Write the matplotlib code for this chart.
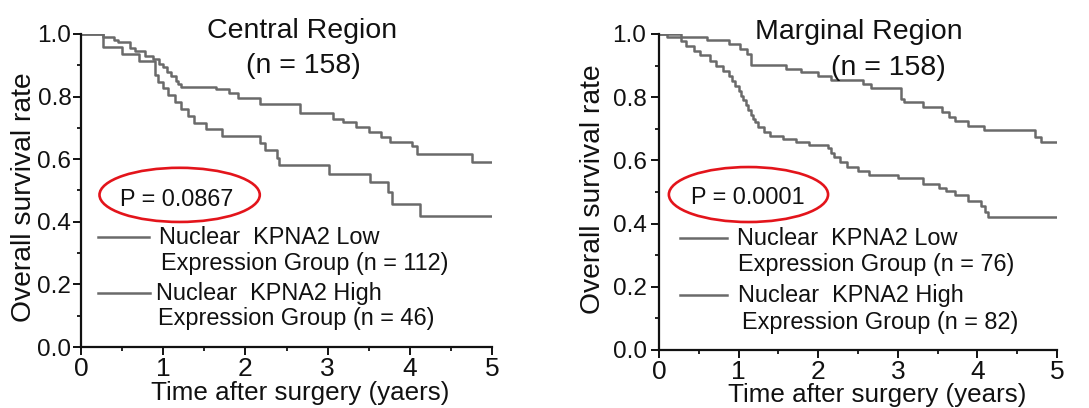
import matplotlib
matplotlib.use("Agg")
import matplotlib.pyplot as plt
from matplotlib.patches import Ellipse
from matplotlib.ticker import MultipleLocator

plt.rcParams['font.family'] = ['Liberation Sans', 'DejaVu Sans']

# ---------------- data ----------------
# Central region
central_low_t = [0, 0.27, 0.40, 0.45, 0.60, 0.66, 0.78, 0.88, 0.95, 1.00, 1.05, 1.10, 1.15, 1.18,
                 1.22, 1.64, 1.80, 1.91, 2.18, 2.66, 3.07, 3.19, 3.34, 3.50, 3.65, 3.76, 4.03,
                 4.09, 4.76, 5.0]
central_low_s = [1.0, 0.99, 0.982, 0.973, 0.955, 0.946, 0.93, 0.92, 0.905, 0.893, 0.88, 0.866, 0.85, 0.84,
                 0.83, 0.823, 0.81, 0.796, 0.776, 0.747, 0.73, 0.718, 0.704, 0.688, 0.672, 0.656, 0.643,
                 0.618, 0.59, 0.59]
central_high_t = [0, 0.27, 0.50, 0.71, 0.90, 0.94, 1.00, 1.06, 1.14, 1.22, 1.30, 1.38, 1.52, 1.72,
                  2.18, 2.24, 2.38, 2.41, 3.02, 3.51, 3.74, 3.78, 4.13, 5.0]
central_high_s = [1.0, 0.957, 0.935, 0.913, 0.870, 0.848, 0.826, 0.804, 0.782, 0.761, 0.739, 0.717, 0.696, 0.674,
                  0.652, 0.630, 0.605, 0.580, 0.554, 0.527, 0.494, 0.457, 0.420, 0.420]

# Marginal region
marginal_low_t = [0, 0.28, 0.60, 0.88, 1.02, 1.10, 1.16, 1.60, 1.78, 2.00, 2.16, 2.56, 2.66, 3.04,
                  3.08, 3.32, 3.56, 3.64, 3.72, 3.88, 4.08, 4.72, 4.80, 5.0]
marginal_low_s = [1.0, 0.99, 0.982, 0.968, 0.953, 0.937, 0.902, 0.89, 0.88, 0.866, 0.853, 0.842, 0.828, 0.795,
                  0.784, 0.77, 0.753, 0.737, 0.726, 0.708, 0.695, 0.675, 0.658, 0.658]
marginal_high_t = [0, 0.10, 0.28, 0.34, 0.44, 0.52, 0.64, 0.72, 0.80, 0.88, 0.92, 0.96, 1.00, 1.03,
                   1.06, 1.09, 1.12, 1.15, 1.18, 1.21, 1.24, 1.32, 1.40, 1.56, 1.72, 1.88, 2.12,
                   2.16, 2.20, 2.28, 2.36, 2.50, 2.64, 3.00, 3.32, 3.52, 3.60, 3.72, 3.88, 4.04,
                   4.10, 4.13, 5.0]
marginal_high_s = [1.0, 0.99, 0.978, 0.963, 0.947, 0.932, 0.916, 0.90, 0.884, 0.868, 0.85, 0.837, 0.82, 0.805,
                   0.79, 0.774, 0.758, 0.745, 0.732, 0.72, 0.705, 0.69, 0.678, 0.668, 0.657, 0.648, 0.638,
                   0.624, 0.61, 0.595, 0.58, 0.568, 0.555, 0.543, 0.525, 0.512, 0.502, 0.49, 0.47, 0.455,
                   0.438, 0.42, 0.42]

titles = [("Central Region", "(n = 158)"), ("Marginal Region", "(n = 158)")]
p_texts = ["P = 0.0867", "P = 0.0001"]
legend_low = [("Nuclear  KPNA2 Low", "Expression Group (n = 112)"),
              ("Nuclear  KPNA2 Low", "Expression Group (n = 76)")]
legend_high = [("Nuclear  KPNA2 High", "Expression Group (n = 46)"),
               ("Nuclear  KPNA2 High", "Expression Group (n = 82)")]
xlabels = ["Time after surgery (yaers)", "Time after surgery (years)"]
ylabel = "Overall survival rate"
xtick_labels = ['0', '1', '2', '3', '4', '5']
ytick_labels = ['0.0', '0.2', '0.4', '0.6', '0.8', '1.0']

# ---------------- figure ----------------
W, H = 1089, 408
fig = plt.figure(figsize=(W / 100, H / 100), dpi=100)

def fx(px):
    return px / W

def fy(py):
    return 1 - py / H

axes_px = [(81, 492, 34, 347), (659, 1057, 34, 350)]
axs = []
for (l, r, t, b) in axes_px:
    ax = fig.add_axes([fx(l), fy(b), (r - l) / W, (b - t) / H])
    axs.append(ax)

curve_color = '#6a6a6a'
text_color = '#111111'
red = '#e3141b'

data = [((central_low_t, central_low_s), (central_high_t, central_high_s)),
        ((marginal_low_t, marginal_low_s), (marginal_high_t, marginal_high_s))]

ell_params = [((1.20, 0.486), 1.95, 0.173), ((1.124, 0.492), 2.0, 0.174)]
p_pos = [(1.16, 0.47), (1.12, 0.484)]
leg_low_pos = [((0.207, 0.827), 0.351, (0.95, 0.351), (0.973, 0.268)),
               ((0.264, 0.854), 0.354, (0.98, 0.354), (0.992, 0.269))]
leg_high_pos = [((0.207, 0.84), 0.1725, (0.912, 0.1725), (0.937, 0.0895)),
                ((0.264, 0.854), 0.174, (0.992, 0.174), (1.043, 0.0886))]
y_pads = [1.5, 3.5]

for i, ax in enumerate(axs):
    (lt, ls), (ht, hs) = data[i]
    ax.step(lt, ls, where='post', color=curve_color, lw=1.8)
    ax.step(ht, hs, where='post', color=curve_color, lw=1.8)
    ax.set_xlim(0, 5)
    ax.set_ylim(0, 1.0)
    for s in ['top', 'right']:
        ax.spines[s].set_visible(False)
    for s in ['left', 'bottom']:
        ax.spines[s].set_linewidth(1.6)
        ax.spines[s].set_color('#111111')
    ax.xaxis.set_minor_locator(MultipleLocator(0.5))
    ax.yaxis.set_minor_locator(MultipleLocator(0.1))
    ax.set_xticks([0, 1, 2, 3, 4, 5])
    ax.set_xticklabels(xtick_labels)
    ax.set_yticks([0.0, 0.2, 0.4, 0.6, 0.8, 1.0])
    ax.set_yticklabels(ytick_labels)
    ax.tick_params(which='major', direction='out', length=5.5, width=1.4, colors='#111111',
                   labelcolor=text_color)
    ax.tick_params(which='minor', direction='out', length=3, width=1.3, colors='#111111')
    ax.tick_params(axis='x', which='major', pad=1.5, labelsize=19)
    ax.tick_params(axis='y', which='major', pad=y_pads[i], labelsize=17.5)
    ax.patch.set_alpha(0)

    (cx, cy), ew, eh = ell_params[i]
    ax.add_patch(Ellipse((cx, cy), ew, eh, fill=False, edgecolor=red, lw=1.9, clip_on=False))
    ax.text(p_pos[i][0], p_pos[i][1], p_texts[i], fontsize=16.8, color=text_color,
            ha='center', va='center')

    for (x0x1, ly, t1, t2), (l1, l2) in [(leg_low_pos[i], legend_low[i]),
                                         (leg_high_pos[i], legend_high[i])]:
        ax.plot(list(x0x1), [ly, ly], color=curve_color, lw=1.8)
        ax.text(t1[0], t1[1], l1, fontsize=16.9, color=text_color, ha='left', va='center')
        ax.text(t2[0], t2[1], l2, fontsize=16.9, color=text_color, ha='left', va='center')

# titles
fig.text(fx(302), fy(38.5), titles[0][0], fontsize=20.5, color=text_color, ha='center', va='baseline')
fig.text(fx(303), fy(73), titles[0][1], fontsize=20.5, color=text_color, ha='center', va='baseline')
fig.text(fx(859), fy(39), titles[1][0], fontsize=20.5, color=text_color, ha='center', va='baseline')
fig.text(fx(888), fy(75), titles[1][1], fontsize=20.5, color=text_color, ha='center', va='baseline')

# y labels
fig.text(fx(24), fy(197), ylabel, fontsize=20.3, color=text_color, rotation=90, ha='center', va='center')
fig.text(fx(593), fy(189), ylabel, fontsize=20.3, color=text_color, rotation=90, ha='center', va='center')

# x labels
fig.text(fx(300), fy(400), xlabels[0], fontsize=18.7, color=text_color, ha='center', va='baseline')
fig.text(fx(877), fy(402), xlabels[1], fontsize=18.7, color=text_color, ha='center', va='baseline')

fig.savefig('out.png', dpi=100)
